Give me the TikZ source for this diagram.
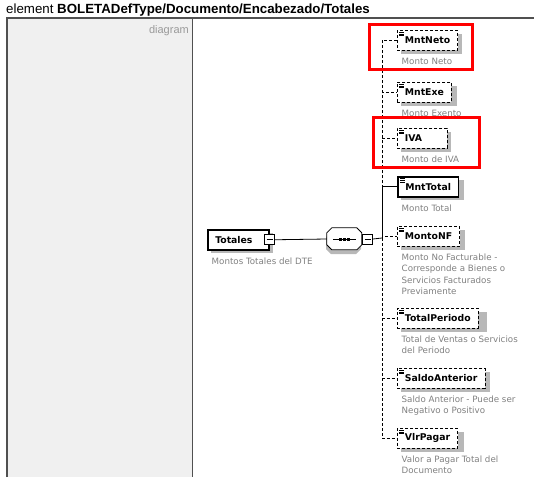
\documentclass[tikz,border=0pt]{standalone}
\usepackage{fontspec}
\setmainfont{Liberation Sans}
\newfontfamily\boxfont{DejaVu Sans}
\usetikzlibrary{positioning, backgrounds}

\definecolor{panelgray}{HTML}{F0F0F0}
\definecolor{framegray}{HTML}{505050}
\definecolor{descgray}{HTML}{808080}
\definecolor{shadowgray}{HTML}{B8B8B8}

\tikzset{
  elembox/.style={draw, fill=white, anchor=north west, minimum height=20pt,
    inner xsep=7.5pt, inner ysep=0pt, align=left,
    font=\boxfont\bfseries\fontsize{9.3}{12}\selectfont},
  simple/.style={path picture={
    \foreach \dy in {2,3.6,5.2}
      \draw[line width=0.6pt, solid] ([shift={(2pt,-\dy pt)}]path picture bounding box.north west) -- ++(5pt,0pt);}},
  req/.style={line width=1.5pt},
  opt/.style={line width=0.8pt, dash pattern=on 3pt off 2pt},
  desc/.style={anchor=north west, inner sep=0pt, align=left, text=descgray,
    font=\boxfont\fontsize{8.7}{11.3}\selectfont},
  minusbox/.style={draw, fill=white, minimum size=10pt, inner sep=0pt, line width=0.8pt,
    path picture={\draw ([xshift=2pt]path picture bounding box.west) -- ([xshift=-2pt]path picture bounding box.east);}},
  optlink/.style={line width=0.8pt, dash pattern=on 3pt off 2pt},
  reqlink/.style={line width=0.8pt},
  highlight/.style={draw=red, line width=3pt}
}

\begin{document}
\begin{tikzpicture}[x=1pt, y=-1pt]
    \useasboundingbox (0,0) rectangle (534,477);

    % Frame and left panel
    \fill[panelgray] (7,18) rectangle (192,477);
    \draw[framegray, line width=1.5pt] (7,477) -- (7,18);
    \draw[framegray, line width=1pt] (192,18) -- (192,477);
    \draw[framegray, line width=2pt] (6,18) -- (534,18);
    \node (title) [anchor=base west, inner sep=0pt, font=\fontsize{13.3}{15}\selectfont] at (6,13.5)
        {element \textbf{BOLETADefType/Documento/Encabezado/Totales}};
    \node (diaglabel) [anchor=east, inner sep=0pt, text=descgray!80, font=\fontsize{11}{13}\selectfont] at (189,31) {diagram};

    % Shadows (drawn first, at the box positions)
    \foreach \sx/\sy/\sw in {207/229/62, 397/30/61, 397/82/56, 397/128/50, 397/176/63,
                             397/226/64, 397/308/86, 397/368/89, 397/428/63}
        \fill[shadowgray] (\sx+4,\sy+4) rectangle ++(\sw,20);
    \fill[shadowgray] (331,232) -- ++(25,0) -- ++(5,5) -- ++(0,12)
        -- ++(-5,5) -- ++(-25,0) -- ++(-5,-5) -- ++(0,-12) -- cycle;

    % Root element and sequence
    \node (totales) [elembox, req, text width=46pt] at (207,229) {Totales};
    \node (totminus) [minusbox] at (totales.east) {};
    \node (totalesdesc) [desc] at ([shift={(4.5pt,-7pt)}]totales.south west) {Montos Totales del DTE};

    \node (seq) [minimum width=35pt, minimum height=22pt, inner sep=0pt] at (344.5,239) {};
    \filldraw[fill=white, line width=0.8pt] ([xshift=5pt]seq.north west) -- ++(25,0) -- ++(5,5) -- ++(0,12)
        -- ++(-5,5) -- ++(-25,0) -- ++(-5,-5) -- ++(0,-12) -- cycle;
    \node (seqminus) [minusbox, anchor=west] at (seq.east) {};
    \draw[reqlink] ([xshift=6pt]seq.west) -- ([xshift=-6pt]seq.east);
    \foreach \dx in {-4,0,4}
        \fill ([xshift=\dx pt]seq.center) +(-1.5,-1.5) rectangle +(1.5,1.5);
    \coordinate (spine) at (382,238);

    % Children
    \node (mntneto) [elembox, simple, opt] at (397,30) {MntNeto};
    \node (mntnetodesc) [desc] at ([shift={(4.5pt,-7pt)}]mntneto.south west) {Monto Neto};
    \node (mntexe) [elembox, simple, opt] at (397,82) {MntExe};
    \node (mntexedesc) [desc] at ([shift={(4.5pt,-7pt)}]mntexe.south west) {Monto Exento};
    \node (iva) [elembox, simple, opt, text width=35pt] at (397,128) {IVA};
    \node (ivadesc) [desc] at ([shift={(4.5pt,-7pt)}]iva.south west) {Monto de IVA};
    \node (mnttotal) [elembox, simple, req] at (397,176) {MntTotal};
    \node (mnttotaldesc) [desc] at ([shift={(4.5pt,-7pt)}]mnttotal.south west) {Monto Total};
    \node (montonf) [elembox, simple, opt] at (397,226) {MontoNF};
    \node (montonfdesc) [desc] at ([shift={(4.5pt,-7pt)}]montonf.south west)
        {Monto No Facturable -\\Corresponde a Bienes o\\Servicios Facturados\\Previamente};
    \node (totalperiodo) [elembox, simple, opt] at (397,308) {TotalPeriodo};
    \node (totalperiododesc) [desc] at ([shift={(4.5pt,-7pt)}]totalperiodo.south west)
        {Total de Ventas o Servicios\\del Periodo};
    \node (saldoanterior) [elembox, simple, opt] at (397,368) {SaldoAnterior};
    \node (saldoanteriordesc) [desc] at ([shift={(4.5pt,-7pt)}]saldoanterior.south west)
        {Saldo Anterior - Puede ser\\Negativo o Positivo};
    \node (vlrpagar) [elembox, simple, opt] at (397,428) {VlrPagar};
    \node (vlrpagardesc) [desc] at ([shift={(4.5pt,-7pt)}]vlrpagar.south west)
        {Valor a Pagar Total del\\Documento};

    % Connections
    \draw[reqlink] (totminus.east) -- (seq.west);
    \draw[reqlink] (seqminus.east) -- (spine);
    \foreach \child in {mntneto, mntexe, iva, montonf, totalperiodo, saldoanterior, vlrpagar}
        \draw[optlink] (spine) |- (\child.west);
    \draw[reqlink] (spine) |- (mnttotal.west);

    % Highlights
    \draw[highlight] (369,24.5) rectangle (472,69.5);
    \draw[highlight] (373,117.5) rectangle (479,167.5);
\end{tikzpicture}
\end{document}
